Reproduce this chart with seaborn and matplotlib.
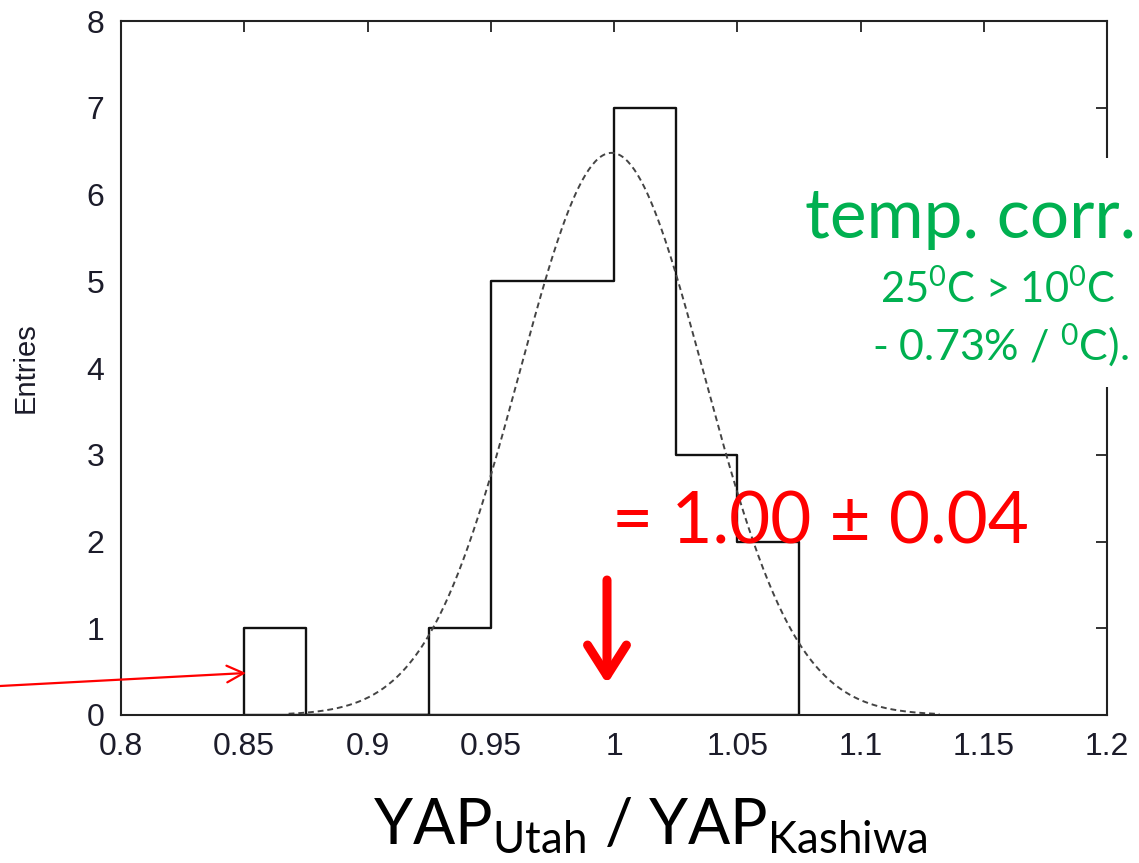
import numpy as np
import pandas as pd
import matplotlib
matplotlib.use("Agg")
import matplotlib.pyplot as plt
from matplotlib.patches import Rectangle
import seaborn as sns

# Entries per bin of the Utah / Kashiwa YAP ratio (bin width 0.025)
bin_centres = [0.8625, 0.8875, 0.9125, 0.9375, 0.9625, 0.9875, 1.0125, 1.0375, 1.0625]
entries = [1, 0, 0, 1, 5, 5, 7, 3, 2]
bin_width = 0.025
bin_range = (0.85, 1.075)

# Gaussian fit to the histogram
fit_amplitude = 6.48
fit_mean = 0.999
fit_sigma = 0.0375
fit_range = (0.868, 1.132)

x_ticks = [0.8, 0.85, 0.9, 0.95, 1.0, 1.05, 1.1, 1.15, 1.2]
x_tick_labels = ["0.8", "0.85", "0.9", "0.95", "1", "1.05", "1.1", "1.15", "1.2"]
y_ticks = [0, 1, 2, 3, 4, 5, 6, 7, 8]

W, H = 1139, 863
GREEN = "#00B050"
RED = "#FF0000"
INK = "#1c1c2a"

sns.set_theme(style="white")
plt.rcParams["font.family"] = ["Liberation Sans", "DejaVu Sans"]
plt.rcParams["mathtext.fontset"] = "custom"
plt.rcParams["mathtext.rm"] = "Lato"
plt.rcParams["mathtext.it"] = "Lato:italic"
plt.rcParams["mathtext.bf"] = "Lato:bold"

fig = plt.figure(figsize=(W / 100, H / 100), dpi=100)
ax = fig.add_axes([121 / W, 1 - 715 / H, (1107 - 121) / W, (715 - 21) / H])

df = pd.DataFrame({"ratio": bin_centres, "entries": entries})
sns.histplot(data=df, x="ratio", weights="entries", binwidth=bin_width,
             binrange=bin_range, element="step", fill=True, color="black",
             facecolor="none", edgecolor="#111111", linewidth=1.7, ax=ax)

xs = np.linspace(fit_range[0], fit_range[1], 400)
ys = fit_amplitude * np.exp(-0.5 * ((xs - fit_mean) / fit_sigma) ** 2)
sns.lineplot(x=xs, y=ys, ax=ax, color="#444444", linewidth=1.4,
             linestyle=(0, (3, 2)))

ax.set_xlim(0.8, 1.2)
ax.set_ylim(0, 8)
ax.set_xticks(x_ticks, x_tick_labels)
ax.set_yticks(y_ticks)
ax.tick_params(direction="in", length=8, width=1.3, top=True, right=True,
               labelsize=23, pad=12, color="#222222", labelcolor=INK)
for s in ax.spines.values():
    s.set_visible(True)
    s.set_linewidth(1.5)
    s.set_color("#222222")

ax.set_ylabel("Entries", fontsize=21, color=INK)
ax.yaxis.set_label_coords((40 - 121) / 986, 0.5)

ax.set_xlabel(r"YAP$_{\mathrm{Utah}}$ / YAP$_{\mathrm{Kashiwa}}$",
              fontsize=45, family="Lato", color="black")
ax.xaxis.set_label_coords((650 - 121) / 986, (715 - 843) / 694)
ax.xaxis.label.set_verticalalignment("baseline")


def px(x, y):
    return x / W, 1 - y / H


# white panel behind the temperature-correction note
fig.add_artist(Rectangle(px(790, 387), (W - 790) / W, (387 - 158) / H,
                         transform=fig.transFigure, facecolor="white",
                         edgecolor="none", zorder=3))

fig.text(*px(805, 238), "temp. corr.", fontsize=50, family="Lato",
         color=GREEN, ha="left", va="baseline", zorder=4)
fig.text(*px(880, 303), r"25$^{0}$C > 10$^{0}$C", fontsize=30, family="Lato",
         color=GREEN, ha="left", va="baseline", zorder=4)
fig.text(*px(872, 360), r"- 0.73% / $^{0}$C).", fontsize=31, family="Lato",
         color=GREEN, ha="left", va="baseline", zorder=4)
fig.text(*px(612, 543), "= 1.00 \u00b1 0.04", fontsize=51, family="Lato",
         color=RED, ha="left", va="baseline", zorder=4)

# arrow marking the mean
ax.annotate("", xy=px(607, 684), xytext=px(607, 580), xycoords="figure fraction",
            textcoords="figure fraction",
            arrowprops=dict(arrowstyle="->,head_length=22,head_width=14",
                            mutation_scale=1, lw=6.5, color=RED,
                            capstyle="round", joinstyle="round",
                            shrinkA=0, shrinkB=0), zorder=4)
# arrow to the outlier bin
ax.annotate("", xy=px(246, 673), xytext=px(0, 686), xycoords="figure fraction",
            textcoords="figure fraction", annotation_clip=False,
            arrowprops=dict(arrowstyle="->,head_length=12,head_width=6",
                            mutation_scale=1, lw=1.6, color=RED,
                            shrinkA=0, shrinkB=0), zorder=4)

fig.savefig("out.png", dpi=100)
